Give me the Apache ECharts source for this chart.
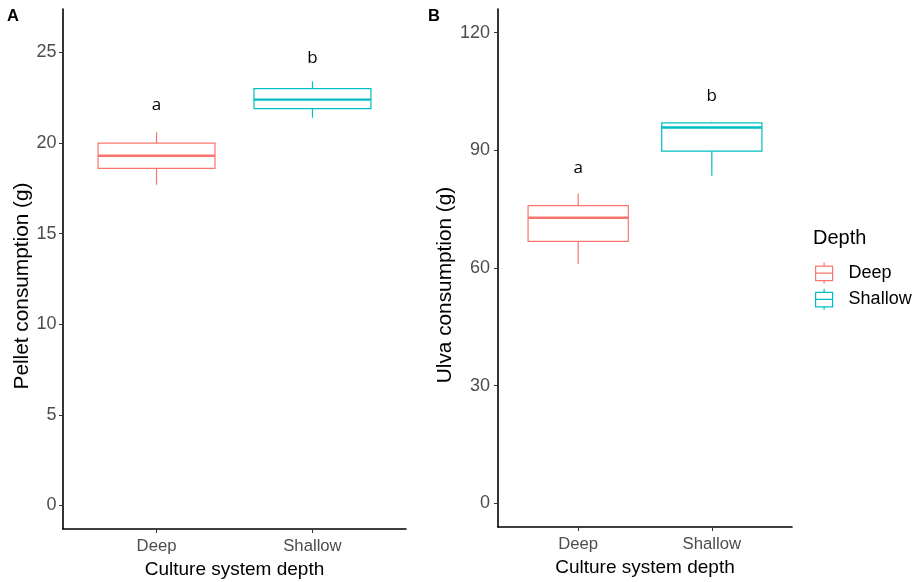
<!DOCTYPE html>
<html>
<head>
<meta charset="utf-8">
<script src="https://cdn.jsdelivr.net/npm/echarts@6/dist/echarts.min.js"></script>
<style>
    html, body { margin: 0; padding: 0; background: #fff; }
    #chart { width: 917px; height: 582px; }
</style>
</head>
<body>
<div id="chart"></div>
<script>
// categories and box statistics: [lower whisker, Q1, median, Q3, upper whisker]
const depthNames = ['Deep', 'Shallow'];
const depthColors = ['#F8766D', '#00BFC4'];
const pelletBox = [
    [17.7, 18.6, 19.3, 20.0, 20.6],
    [21.4, 21.9, 22.4, 23.0, 23.4]
];
const ulvaBox = [
    [61.0, 66.8, 72.8, 75.9, 79.0],
    [83.5, 89.8, 95.8, 97.0, 97.3]
];
// significance letters
const pelletLetters = ['a', 'b'];
const pelletLetterY = [22.1, 24.7];
const ulvaLetters = ['a', 'b'];
const ulvaLetterY = [85.5, 103.7];
// tick labels
const pelletTicks = [0, 5, 10, 15, 20, 25];
const ulvaTicks = [0, 30, 60, 90, 120];
const xTicks = [1, 2];

const BOX_WIDTH = 0.75;
const axisFont = 'Liberation Sans';

function boxSeries(gridIdx, catIdx, stats) {
    const col = depthColors[catIdx];
    return {
        type: 'custom',
        name: depthNames[catIdx],
        xAxisIndex: gridIdx,
        yAxisIndex: gridIdx,
        itemStyle: { color: col },
        encode: { x: 0, y: [1, 2, 3, 4, 5] },
        data: [[catIdx + 1].concat(stats)],
        renderItem: function (params, api) {
            const x = api.value(0);
            const lo = api.coord([x, api.value(1)]);
            const q1 = api.coord([x, api.value(2)]);
            const md = api.coord([x, api.value(3)]);
            const q3 = api.coord([x, api.value(4)]);
            const hi = api.coord([x, api.value(5)]);
            const half = api.size([BOX_WIDTH, 0])[0] / 2;
            const cx = q1[0];
            return {
                type: 'group',
                children: [
                    { type: 'line', shape: { x1: cx, y1: hi[1], x2: cx, y2: q3[1] }, style: { stroke: col, lineWidth: 1.2 } },
                    { type: 'line', shape: { x1: cx, y1: q1[1], x2: cx, y2: lo[1] }, style: { stroke: col, lineWidth: 1.2 } },
                    { type: 'rect', shape: { x: cx - half, y: q3[1], width: half * 2, height: q1[1] - q3[1] }, style: { fill: '#fff', stroke: col, lineWidth: 1.2 } },
                    { type: 'line', shape: { x1: cx - half, y1: md[1], x2: cx + half, y2: md[1] }, style: { stroke: col, lineWidth: 2.4 } }
                ]
            };
        }
    };
}

function letterSeries(gridIdx, letters, ys) {
    return {
        type: 'custom',
        xAxisIndex: gridIdx,
        yAxisIndex: gridIdx,
        encode: { x: 0, y: 1 },
        data: ys.map((y, i) => [i + 1, y]),
        silent: true,
        renderItem: function (params, api) {
            const p = api.coord([api.value(0), api.value(1)]);
            return {
                type: 'text',
                x: p[0], y: p[1],
                style: {
                    text: letters[params.dataIndex],
                    fill: '#000',
                    font: '17px "Open Sans"',
                    align: 'center',
                    verticalAlign: 'middle'
                }
            };
        }
    };
}

function xAxisFor(gridIdx) {
    return {
        type: 'value',
        gridIndex: gridIdx,
        min: 0.4,
        max: 2.6,
        name: 'Culture system depth',
        nameLocation: 'middle',
        nameGap: 31,
        nameTextStyle: { fontFamily: axisFont, fontSize: 19, color: '#000' },
        splitLine: { show: false },
        axisLine: { onZero: false, lineStyle: { color: '#000', width: 1.6 } },
        axisTick: { customValues: xTicks, length: 4, lineStyle: { color: '#333' } },
        axisLabel: {
            customValues: xTicks,
            margin: 8.5,
            fontFamily: axisFont,
            fontSize: 16.7,
            color: '#4D4D4D',
            formatter: v => depthNames[Math.round(v) - 1]
        }
    };
}

function yAxisFor(gridIdx, title, lo, hi, ticks, gap, margin) {
    return {
        type: 'value',
        gridIndex: gridIdx,
        min: lo,
        max: hi,
        name: title,
        nameLocation: 'middle',
        nameGap: gap,
        // extra right padding nudges the rotated title down, as in the original figure
        nameTextStyle: { fontFamily: axisFont, fontSize: 20.8, color: '#000', padding: [0, 34, 0, 0] },
        splitLine: { show: false },
        axisLine: { show: true, onZero: false, lineStyle: { color: '#000', width: 1.6 } },
        axisTick: { show: true, customValues: ticks, length: 4, lineStyle: { color: '#333' } },
        axisLabel: {
            customValues: ticks,
            margin: margin,
            fontFamily: axisFont,
            fontSize: 18,
            color: '#4D4D4D'
        }
    };
}

// legend glyph: whisker, box, median, whisker (extra moveTo widens the icon area)
const keyIcon = 'path://M8.5,0 L8.5,3.5 M0,3.5 L17,3.5 L17,18 L0,18 Z M0,10.5 L17,10.5 M8.5,18 L8.5,21 M28,0';

const chart = echarts.init(document.getElementById('chart'));
const option = {
    animation: false,
    backgroundColor: '#fff',
    grid: [
        { left: 63, top: 9, right: 511, bottom: 53, outerBoundsMode: 'none' },
        { left: 498, top: 9, right: 125, bottom: 55, outerBoundsMode: 'none' }
    ],
    xAxis: [xAxisFor(0), xAxisFor(1)],
    yAxis: [
        yAxisFor(0, 'Pellet consumption (g)', -1.3, 27.4, pelletTicks, 26, 6.5),
        yAxisFor(1, 'Ulva consumption (g)', -6, 126, ulvaTicks, 42, 8)
    ],
    legend: {
        orient: 'vertical',
        left: 810,
        top: 257,
        itemWidth: 28,
        itemHeight: 21,
        itemGap: 4,
        selectedMode: false,
        textStyle: { fontFamily: axisFont, fontSize: 18, color: '#000' },
        data: depthNames.map((n, i) => ({
            name: n,
            icon: keyIcon,
            itemStyle: { color: '#fff', borderColor: depthColors[i], borderWidth: 1.2 }
        }))
    },
    graphic: [
        { type: 'text', left: 7, top: 8, style: { text: 'A', font: 'bold 16.5px "Liberation Sans"', fill: '#000' } },
        { type: 'text', left: 428, top: 8, style: { text: 'B', font: 'bold 16.5px "Liberation Sans"', fill: '#000' } },
        { type: 'text', left: 813, top: 228, style: { text: 'Depth', font: '20px "Liberation Sans"', fill: '#000' } }
    ],
    series: [
        boxSeries(0, 0, pelletBox[0]),
        boxSeries(0, 1, pelletBox[1]),
        letterSeries(0, pelletLetters, pelletLetterY),
        boxSeries(1, 0, ulvaBox[0]),
        boxSeries(1, 1, ulvaBox[1]),
        letterSeries(1, ulvaLetters, ulvaLetterY)
    ]
};
chart.setOption(option);
</script>
</body>
</html>
